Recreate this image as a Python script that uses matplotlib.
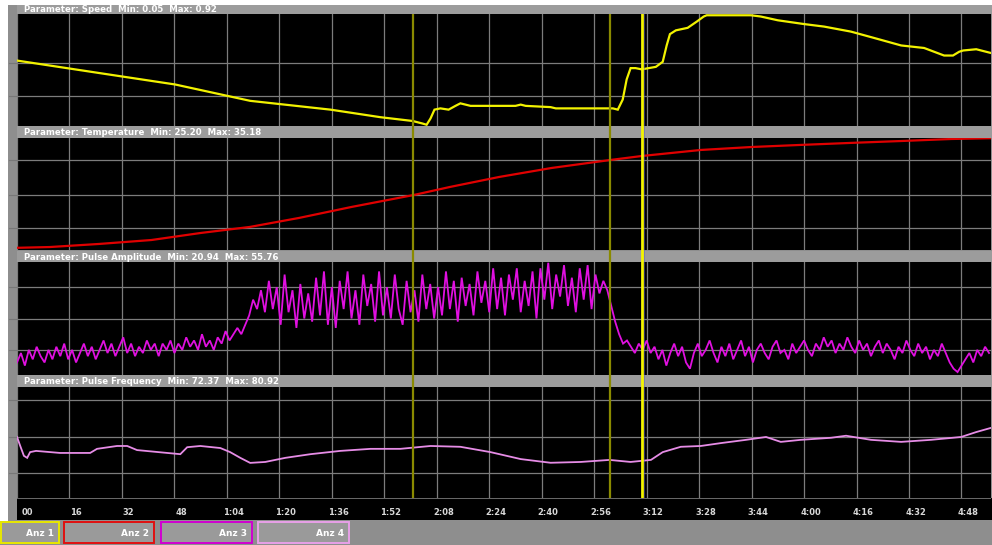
import matplotlib
matplotlib.use("Agg")
import matplotlib.pyplot as plt
from matplotlib.patches import Rectangle

# ---------------------------------------------------------------- data
time_ticks = [0, 16, 32, 48, 64, 80, 96, 112, 128, 144, 160, 176, 192,
              208, 224, 240, 256, 272, 288]
tick_labels = ["00", "16", "32", "48", "1:04", "1:20", "1:36", "1:52", "2:08",
               "2:24", "2:40", "2:56", "3:12", "3:28", "3:44", "4:00", "4:16",
               "4:32", "4:48"]
marker_times = [120.6, 180.7]
cursor_time = 190.5
t_end = 297.0

speed_t = [0, 25.3, 48.2, 71.1, 95.6, 110.8, 120.6, 123.6, 124.9, 126.1, 127.3,
           129.1, 131.6, 133.7, 135.2, 138.3, 152.0, 153.6, 155.1, 162.7, 164.3,
           181.7, 183.2, 184.7, 185.9, 187.1, 188.6, 190.5, 194.8, 196.9, 198.1,
           199.1, 200.9, 204.5, 207.3, 209.4, 210.3, 223.8, 226.8, 232.0, 240.0,
           246.1, 254.3, 261.3, 269.6, 276.6, 282.7, 285.4, 287.3, 288.5, 292.5,
           297.0]
speed_v = [0.56, 0.46, 0.37, 0.24, 0.17, 0.11, 0.08, 0.06, 0.05, 0.10, 0.17,
           0.18, 0.17, 0.20, 0.22, 0.20, 0.20, 0.21, 0.20, 0.19, 0.18,
           0.18, 0.17, 0.25, 0.41, 0.50, 0.50, 0.49, 0.51, 0.55, 0.68,
           0.77, 0.80, 0.82, 0.87, 0.91, 0.92, 0.92, 0.91, 0.88, 0.85,
           0.83, 0.79, 0.74, 0.68, 0.66, 0.60, 0.60, 0.63, 0.64, 0.65,
           0.62]

temp_t = [0, 10, 25, 41, 56, 71, 86, 102, 121, 132, 147, 163, 181, 190.5,
          208.5, 224, 239, 254, 270, 285, 297]
temp_v = [25.20, 25.27, 25.55, 25.91, 26.55, 27.10, 27.92, 28.92, 30.01, 30.74,
          31.65, 32.47, 33.20, 33.56, 34.11, 34.38, 34.57, 34.75, 34.93, 35.11,
          35.18]

# pulse amplitude, one reading every 1.2 s
amp_step = 1.2
amp_v = [24, 27, 23, 28, 25, 29, 26, 24, 28, 25, 29, 26, 30, 25, 28, 24, 27, 30, 26, 29,
         25, 28, 31, 27, 30, 26, 29, 32, 27, 30, 26, 29, 27, 31, 28, 30, 26, 30, 28, 31,
         27, 30, 28, 32, 29, 31, 28, 33, 29, 31, 28, 32, 30, 34, 31, 33, 35, 33, 36,
         39, 44, 41, 47,
         40, 50, 41, 48, 36, 52, 40, 47, 35, 49, 38, 46, 37, 51, 39, 53, 36, 48, 35, 50,
         41, 53, 38, 47, 36, 52, 42, 49, 37, 53, 39, 48, 38, 52, 41,
         36, 50, 40, 47, 37, 52, 41, 49, 38, 48, 39, 53, 41, 50, 37, 51, 42, 49, 39, 53,
         43, 50, 40, 54, 41, 51, 39, 52, 44, 54, 40, 50, 42, 53, 38, 54, 44, 55.76, 41, 52,
         45, 55, 42, 51, 40, 54, 44, 55, 41, 52, 46,
         50, 47, 42, 37, 33, 30, 31,
         29, 27, 30, 28, 31, 27, 29, 25, 28, 23, 27, 30, 26, 29, 24, 22, 27, 30, 26, 28,
         31, 27, 24, 29, 26, 30, 25, 28, 31, 26, 29, 24, 28, 30, 27, 25, 29, 31, 27, 28,
         25, 30, 27, 29, 31, 28, 26, 30, 28, 32, 29, 31, 27, 30, 28, 32, 29, 27, 31, 28,
         30, 26, 29, 31, 27, 30, 28, 25, 29, 27, 31, 28, 26, 30, 27, 29, 25, 28, 26, 30,
         27, 24, 22, 20.94, 23, 25, 27, 24, 28, 26, 29, 27]

freq_t = [0, 0.9, 2.1, 3.1, 4.0, 5.8, 13.1, 22.3, 24.4, 30.5, 33.6, 36.6, 45.8,
          49.8, 51.9, 55.9, 62.0, 65.0, 68.1, 71.1, 75.7, 81.8, 89.5, 98.6, 107.8,
          116.9, 126.1, 135.2, 144.4, 153.6, 162.7, 171.9, 180.7, 187.1, 193.3,
          196.9, 202.4, 208.5, 214.6, 222.3, 228.4, 232.9, 239.0, 248.2, 252.8,
          260.4, 269.6, 278.7, 287.9, 292.5, 297.0]
freq_v = [78.7, 76.7, 74.1, 73.6, 75.0, 75.3, 74.8, 74.8, 75.8, 76.5, 76.5, 75.5,
          74.8, 74.5, 76.2, 76.5, 76.0, 75.0, 73.6, 72.37, 72.6, 73.6, 74.5, 75.3,
          75.8, 75.8, 76.5, 76.3, 75.0, 73.3, 72.4, 72.6, 73.1, 72.6, 73.1,
          75.0, 76.3, 76.5, 77.2, 78.0, 78.7, 77.5, 78.0, 78.5, 79.0,
          78.0, 77.5, 78.0, 78.7, 79.9, 80.92]

panels = [
    ("Speed", speed_t, speed_v, "#f2f200", 1.6, (0.04, 0.93), [0.28, 0.54]),
    ("Temperature", temp_t, temp_v, "#e00000", 1.6, (25.0, 35.2), [27.0, 30.0, 33.2]),
    ("Pulse Amplitude", None, amp_v, "#e010e0", 1.3, (20.0, 56.0), [28.0, 38.0, 48.0]),
    ("Pulse Frequency", freq_t, freq_v, "#e68ce6", 1.3, (63.8, 90.9), [70.0, 78.7, 87.7]),
]

# ---------------------------------------------------------------- layout (pixels)
W, H = 992, 545
X0, X1 = 17, 991
panel_rows = [(5, 14, 126), (126, 138, 250), (251, 262, 375), (375, 387, 498)]

BAR = "#8e8e8e"
HEAD = "#9c9c9c"
GRID = "#7c7c7c"


def frac(x, y, w, h):
    return [x / W, 1 - (y + h) / H, w / W, h / H]


fig = plt.figure(figsize=(W / 100, H / 100), dpi=100, facecolor=BAR)

bg = fig.add_axes([0, 0, 1, 1])
bg.set_xlim(0, W)
bg.set_ylim(H, 0)
bg.axis("off")
bg.add_patch(Rectangle((0, 0), W, 5, color="white", lw=0))
bg.add_patch(Rectangle((0, 0), 8, 521, color="white", lw=0))
bg.add_patch(Rectangle((X0, 498), W - X0, 22, color="black", lw=0))

for (name, t, v, color, lw, ylim, grid_vals), (hy, top, bot) in zip(panels, panel_rows):
    bg.add_patch(Rectangle((X0, hy), W - X0, top - hy, color=HEAD, lw=0))
    if t is None:
        t = [i * amp_step for i in range(len(v))]
    title = f"Parameter: {name}  Min: {min(v):.2f}  Max: {max(v):.2f}"
    bg.text(24, (hy + top) / 2 + 0.5, title, color="white", fontsize=6.2,
            fontweight="bold", va="center", ha="left")

    ax = fig.add_axes(frac(X0, top, X1 - X0, bot - top))
    ax.set_facecolor("black")
    ax.plot(t, v, color=color, lw=lw, solid_joinstyle="miter")
    ax.set_xlim(0, t_end)
    ax.set_ylim(*ylim)
    ax.set_xticks(time_ticks)
    ax.set_yticks(grid_vals)
    ax.grid(True, color=GRID, lw=0.9)
    ax.tick_params(length=0, labelbottom=False, labelleft=False)
    for s in ax.spines.values():
        s.set_visible(False)
    # small ticks on the left margin strip
    for gv in grid_vals:
        yy = bot - (gv - ylim[0]) / (ylim[1] - ylim[0]) * (bot - top)
        bg.plot([9, 16], [yy, yy], color="#777777", lw=0.8)

# cursor overlay across all panels
ov = fig.add_axes(frac(X0, 14, X1 - X0, 498 - 14))
ov.set_xlim(0, t_end)
ov.set_ylim(0, 1)
ov.axis("off")
ov.patch.set_alpha(0)
for mt in marker_times:
    ov.axvline(mt, color="#8a8a00", lw=1.6)
ov.axvline(cursor_time, color="#f4f400", lw=2.0)
ov.axvline(cursor_time + 0.8, color="#6060c0", lw=0.6, alpha=0.6)

# time axis strip
tx = fig.add_axes(frac(X0, 498, X1 - X0, 22))
tx.set_xlim(0, t_end)
tx.set_ylim(0, 1)
tx.axis("off")
tx.axhline(1.0, color=GRID, lw=1.2)
for i, (tt, lab) in enumerate(zip(time_ticks, tick_labels)):
    tx.text(tt + (1.5 if i == 0 else 2.0), 0.35, lab, color="#d8d8d8",
            fontsize=6, fontweight="bold", ha="left" if i == 0 else "center",
            va="center")

# display selector buttons
buttons = [("Anz 1", 0, 60, "#e8e800"), ("Anz 2", 63, 155, "#e01010"),
           ("Anz 3", 160, 253, "#d000d0"), ("Anz 4", 257, 350, "#e8a0e8")]
for lab, bx0, bx1, bc in buttons:
    bg.add_patch(Rectangle((bx0 + 1, 522), bx1 - bx0 - 2, 21, facecolor="#9a9a9a",
                           edgecolor=bc, lw=1.4))
    bg.text(bx1 - 6, 533, lab, color="white", fontsize=6.5, fontweight="bold",
            ha="right", va="center")

fig.savefig("out.png", dpi=100, facecolor=BAR)
